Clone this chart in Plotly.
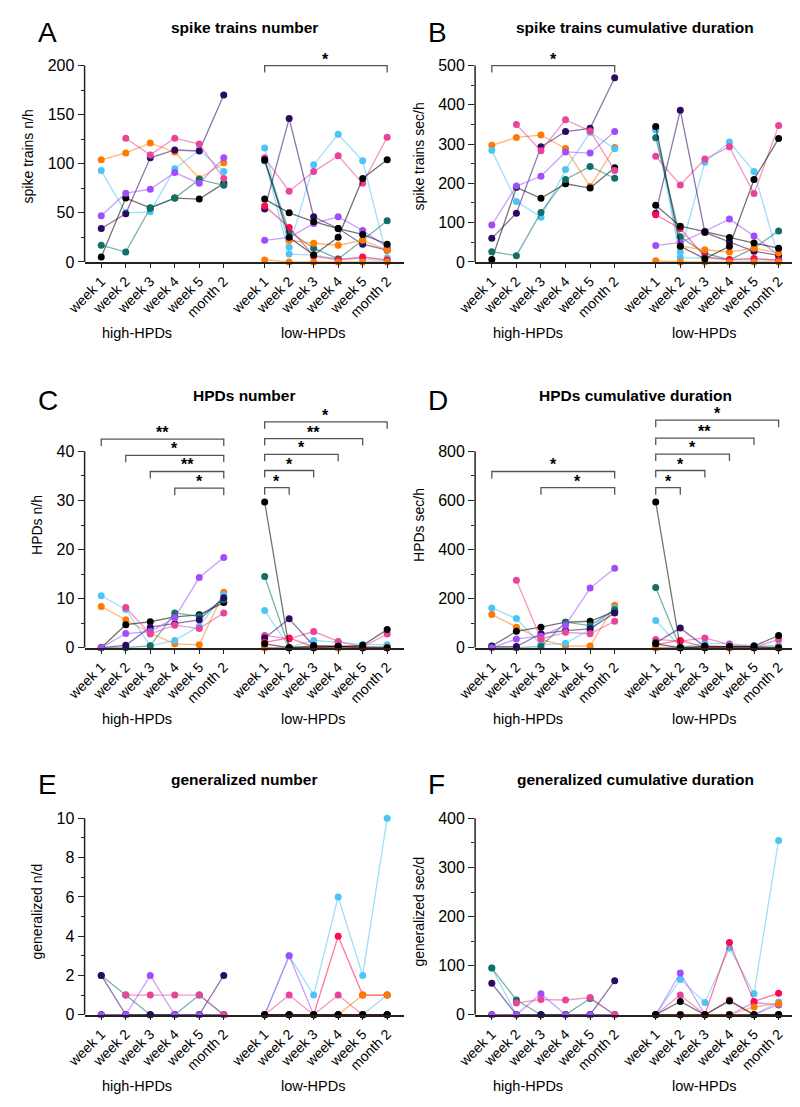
import plotly.graph_objects as go

W, H = 800, 1107
FONT = "Liberation Sans, Arial, sans-serif"

WEEKS = ["week 1", "week 2", "week 3", "week 4", "week 5", "month 2"]
LOW_SHIFT = 6.67
X_HIGH = [0, 1, 2, 3, 4, 5]
X_LOW = [x + LOW_SHIFT for x in X_HIGH]
GROUPS = ["high-HPDs", "low-HPDs"]

COLORS = {
    "black": "#000000",
    "indigo": "#2b0a60",
    "purple": "#a24dfa",
    "lightblue": "#4ec4f6",
    "teal": "#107068",
    "orange": "#ff7a00",
    "pink": "#e8449a",
    "red": "#ff0a50",
}

# animals in drawing order (same row order in the tables below)
HIGH_ANIMALS = ["orange", "lightblue", "black", "teal", "indigo", "purple", "pink"]
LOW_ANIMALS = ["lightblue", "lightblue", "pink", "teal", "purple", "indigo",
               "red", "orange", "orange", "black", "black"]

# A - spike trains number (n/h)
A_HIGH = [
    [104, 111, 121, 112, 85, 101],
    [93, 50, 51, 95, 114, 92],
    [5, 65, 55, 65, 64, 80],
    [17, 10, 55, 65, 84, 78],
    [34, 49, 106, 114, 113, 170],
    [47, 70, 74, 91, 80, 106],
    [None, 126, 109, 126, 120, 85],
]
A_LOW = [
    [116, 15, 99, 130, 103, 4],
    [104, 8, 7, 3, 3, 1],
    [106, 72, 92, 108, 80, 127],
    [103, 31, 14, 3, 22, 42],
    [22, 25, 39, 46, 32, 15],
    [54, 146, 46, 34, 18, 12],
    [57, 35, 6, 2, 5, 2],
    [None, 22, 19, 17, 22, 12],
    [2, 0, 0, 0, 0, 0],
    [64, 50, 41, 34, 28, 18],
    [104, 25, 7, 25, 85, 104],
]

# B - spike trains cumulative duration (sec/h)
B_HIGH = [
    [297, 317, 323, 289, 192, 291],
    [284, 154, 114, 235, 330, 288],
    [6, 190, 162, 199, 188, 240],
    [26, 16, 126, 210, 243, 213],
    [60, 124, 293, 332, 340, 469],
    [94, 193, 218, 280, 277, 332],
    [None, 350, 283, 362, 333, 233],
]
B_LOW = [
    [338, 25, 254, 305, 230, 10],
    [336, 11, 10, 5, 5, 5],
    [269, 196, 262, 293, 174, 347],
    [316, 64, 22, 5, 35, 79],
    [42, 49, 78, 109, 66, 17],
    [124, 386, 75, 51, 27, 17],
    [120, 85, 13, 6, 9, 4],
    [None, 40, 31, 25, 35, 23],
    [3, 0, 0, 0, 0, 0],
    [144, 91, 77, 62, 48, 35],
    [345, 40, 8, 40, 210, 314],
]

# C - HPDs number (n/h)
C_HIGH = [
    [8.4, 5.7, 3.0, 0.8, 0.6, 11.3],
    [10.6, 7.8, 0.4, 1.5, 4.4, 10.8],
    [0, 4.7, 5.3, 6.3, 6.7, 9.2],
    [0, 0, 0.4, 7.1, 6.4, 9.8],
    [0, 0.5, 4.2, 4.9, 5.7, 10.2],
    [0, 2.9, 3.3, 6.1, 14.3, 18.4],
    [None, 8.2, 2.8, 4.6, 3.9, 7.1],
]
C_LOW = [
    [7.6, 0.1, 1.5, 1.1, 0.7, 0.6],
    [0, 0, 0.2, 0.3, 0.2, 0.3],
    [2.5, 1.8, 3.3, 1.3, 0.2, 2.8],
    [14.5, 0, 0, 0, 0, 0],
    [0, 0, 0, 0, 0, 0],
    [2.0, 5.9, 0.4, 0.3, 0.1, 0],
    [1.1, 2.0, 0.2, 0.1, 0.1, 0],
    [None, 0, 0, 0, 0, 0],
    [0, 0, 0, 0, 0, 0],
    [0.8, 0, 0.4, 0.3, 0, 0],
    [29.7, 0, 0, 0.2, 0.5, 3.7],
]

# D - HPDs cumulative duration (sec/h)
D_HIGH = [
    [135, 84, 34, 7, 7, 173],
    [162, 119, 13, 18, 74, 162],
    [7, 67, 84, 104, 108, 148],
    [3, 0, 5, 104, 90, 155],
    [3, 5, 57, 70, 77, 142],
    [0, 36, 47, 92, 243, 324],
    [None, 275, 36, 63, 57, 108],
]
D_LOW = [
    [111, 4, 18, 16, 9, 9],
    [0, 0, 3, 5, 3, 4],
    [34, 27, 40, 13, 2, 34],
    [245, 0, 0, 0, 0, 0],
    [0, 0, 0, 0, 0, 0],
    [20, 80, 5, 4, 2, 0],
    [13, 30, 3, 2, 1, 0],
    [None, 0, 0, 0, 0, 0],
    [0, 0, 0, 0, 0, 0],
    [16, 0, 7, 4, 0, 0],
    [594, 0, 0, 3, 7, 50],
]

# E - generalized number (n/d)
E_HIGH = [
    [0, 0, 0, 0, 0, 0],
    [0, 0, 0, 0, 0, 0],
    [0, 0, 0, 0, 0, 0],
    [2, 1, 0, 0, 1, 0],
    [2, 0, 0, 0, 0, 2],
    [0, 0, 2, 0, 0, 0],
    [None, 1, 1, 1, 1, 0],
]
E_LOW = [
    [0, 3, 1, 6, 2, 10],
    [0, 0, 0, 0, 0, 1],
    [0, 1, 0, 1, 0, 0],
    [0, 0, 0, 0, 0, 0],
    [0, 3, 0, 0, 0, 0],
    [0, 0, 0, 0, 0, 0],
    [0, 0, 0, 4, 1, 1],
    [None, 0, 0, 0, 1, 1],
    [0, 0, 0, 0, 0, 0],
    [0, 0, 0, 0, 0, 0],
    [0, 0, 0, 0, 0, 0],
]

# F - generalized cumulative duration (sec/d)
F_HIGH = [
    [0, 0, 0, 0, 0, 0],
    [95, 0, 0, 0, 0, 0],
    [0, 0, 0, 0, 0, 0],
    [95, 30, 0, 0, 33, 0],
    [64, 0, 0, 0, 0, 69],
    [0, 0, 43, 0, 0, 0],
    [None, 24, 31, 30, 35, 0],
]
F_LOW = [
    [0, 72, 25, 136, 43, 355],
    [0, 0, 0, 0, 0, 26],
    [0, 40, 0, 30, 0, 21],
    [0, 0, 0, 0, 0, 0],
    [0, 85, 0, 0, 25, 20],
    [0, 0, 0, 0, 0, 0],
    [0, 0, 0, 147, 27, 44],
    [None, 0, 0, 0, 16, 23],
    [0, 0, 0, 0, 0, 0],
    [0, 27, 0, 28, 0, 0],
    [0, 0, 0, 0, 0, 0],
]

# significance brackets: (group, start index, end index, y, stars)
A_SIG = [("low", 0, 5, 200, "*")]
B_SIG = [("high", 0, 5, 500, "*")]
C_SIG = [("high", 0, 5, 42.5, "**"), ("high", 1, 5, 39.2, "*"),
         ("high", 2, 5, 35.9, "**"), ("high", 3, 5, 32.5, "*"),
         ("low", 0, 5, 46.0, "*"), ("low", 0, 4, 42.6, "**"),
         ("low", 0, 3, 39.4, "*"), ("low", 0, 2, 36.1, "*"),
         ("low", 0, 1, 32.6, "*")]
D_SIG = [("high", 0, 5, 718, "*"), ("high", 2, 5, 652, "*"),
         ("low", 0, 5, 927, "*"), ("low", 0, 4, 854, "**"),
         ("low", 0, 3, 789, "*"), ("low", 0, 2, 722, "*"),
         ("low", 0, 1, 652, "*")]

# panel: letter, title, y title, top tick, tick step, range top, data, brackets
PANELS = [
    ("A", "spike trains number", "spike trains n/h", 200, 50, 215, A_HIGH, A_LOW, A_SIG),
    ("B", "spike trains cumulative duration", "spike trains sec/h", 500, 100, 537.5, B_HIGH, B_LOW, B_SIG),
    ("C", "HPDs number", "HPDs n/h", 40, 10, 50, C_HIGH, C_LOW, C_SIG),
    ("D", "HPDs cumulative duration", "HPDs sec/h", 800, 200, 1000, D_HIGH, D_LOW, D_SIG),
    ("E", "generalized number", "generalized n/d", 10, 2, 10.5, E_HIGH, E_LOW, []),
    ("F", "generalized cumulative duration", "generalized sec/d", 400, 100, 420, F_HIGH, F_LOW, []),
]

# pixel layout of the grid
COL_PX = [(59, 386), (459, 787)]
ROW_PX = [(256, 58), (645, 447), (1015, 817)]  # (y of zero, y of top tick)
TITLE_PX = [20, 391, 778]


def rgba(hex_color, a):
    h = hex_color.lstrip("#")
    r, g, b = int(h[0:2], 16), int(h[2:4], 16), int(h[4:6], 16)
    return f"rgba({r},{g},{b},{a})"


fig = go.Figure()
layout = dict(
    width=W, height=H, margin=dict(l=0, r=0, t=0, b=0),
    paper_bgcolor="white", plot_bgcolor="white",
    font=dict(family=FONT, color="#000"), showlegend=False,
)
shapes, annotations = [], []
x_left, x_right = -0.68, 12.35

for i, (letter, title, ytitle, ytop, dtick, yext, high, low, sig) in enumerate(PANELS):
    row, col = divmod(i, 2)
    n = i + 1
    xa = "x" if n == 1 else f"x{n}"
    ya = "y" if n == 1 else f"y{n}"
    px0, px1 = COL_PX[col]
    zero_px, top_px = ROW_PX[row]
    ppu = (zero_px - top_px) / ytop
    dom_top_px = zero_px - yext * ppu

    layout["xaxis" if n == 1 else f"xaxis{n}"] = dict(
        domain=[px0 / W, px1 / W], anchor=ya, range=[x_left, x_right],
        showgrid=False, zeroline=False, showline=True, linecolor="#222", linewidth=1.5,
        ticks="outside", ticklen=4, tickwidth=1.2, tickcolor="#222",
        tickvals=X_HIGH + X_LOW, ticktext=WEEKS + WEEKS, tickangle=-45,
        tickfont=dict(size=14, family=FONT),
    )
    if ytop == 10:
        minor_vals = [1, 3, 5, 7, 9]
    else:
        minor_vals = [v + dtick / 2 for v in range(0, int(ytop), int(dtick))]
    layout["yaxis" if n == 1 else f"yaxis{n}"] = dict(
        domain=[1 - zero_px / H, 1 - dom_top_px / H], anchor=xa, range=[0, yext],
        showgrid=False, zeroline=False, showline=False,
        ticks="outside", ticklen=6, tickwidth=1.2, tickcolor="#222",
        tickvals=list(range(0, int(ytop) + 1, int(dtick))),
        tickfont=dict(size=16, family=FONT),
        minor=dict(tickmode="array", tickvals=minor_vals, ticks="outside",
                   ticklen=3, tickwidth=1.2, tickcolor="#222"),
        title=dict(text=ytitle, font=dict(size=14, family=FONT), standoff=10),
    )
    shapes.append(dict(type="line", xref=f"{xa} domain", yref=ya, x0=0, x1=0,
                       y0=0, y1=ytop, line=dict(color="#222", width=1.5)))

    for xs, table, animals in ((X_HIGH, high, HIGH_ANIMALS), (X_LOW, low, LOW_ANIMALS)):
        for name, vals in zip(animals, table):
            c = COLORS[name]
            fig.add_trace(go.Scatter(
                x=xs, y=vals, mode="lines+markers", xaxis=xa, yaxis=ya,
                line=dict(color=rgba(c, 0.55), width=1.3),
                marker=dict(color=c, size=7), cliponaxis=False,
                hoverinfo="skip",
            ))

    drop = 7 / ppu
    for grp, a, b, yb, stars in sig:
        xs = X_HIGH if grp == "high" else X_LOW
        fig.add_trace(go.Scatter(
            x=[xs[a], xs[a], xs[b], xs[b]], y=[yb - drop, yb, yb, yb - drop],
            mode="lines", xaxis=xa, yaxis=ya, cliponaxis=False,
            line=dict(color="#555", width=1.3), hoverinfo="skip",
        ))
        annotations.append(dict(
            xref=xa, yref=ya, x=(xs[a] + xs[b]) / 2, y=yb, yanchor="bottom",
            text=f"<b>{stars}</b>", showarrow=False, yshift=-4,
            font=dict(size=16, family=FONT),
        ))

    annotations.append(dict(
        xref="paper", yref="paper", x=(px0 - 50) / W, y=1 - (TITLE_PX[row] + 5) / H,
        text=letter, showarrow=False, xanchor="left", yanchor="middle",
        font=dict(size=28, family=FONT),
    ))
    annotations.append(dict(
        xref="paper", yref="paper", x=(px0 + px1) / 2 / W, y=1 - TITLE_PX[row] / H,
        text=f"<b>{title}</b>", showarrow=False, xanchor="center", yanchor="middle",
        font=dict(size=15.5, family=FONT),
    ))
    for gx, label in zip([1.47, 8.65], GROUPS):
        annotations.append(dict(
            xref=xa, yref="paper", x=gx, y=1 - (zero_px + 72) / H,
            text=label, showarrow=False, xanchor="center", yanchor="middle",
            font=dict(size=14.5, family=FONT),
        ))

layout["shapes"] = shapes
layout["annotations"] = annotations
fig.update_layout(**layout)
fig.write_html("out.html")
